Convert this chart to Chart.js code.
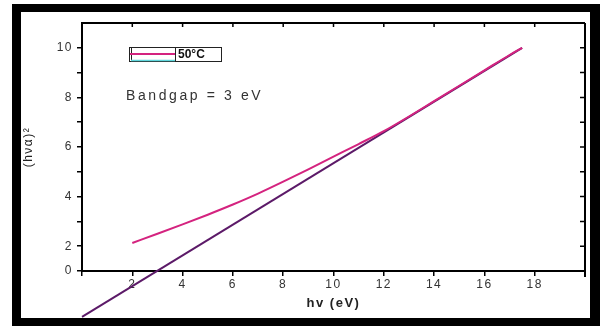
<!DOCTYPE html>
<html>
<head>
<meta charset="utf-8">
<script src="https://cdn.jsdelivr.net/npm/chart.js@4.4.1/dist/chart.umd.min.js"></script>
<style>
html,body{margin:0;padding:0;background:#fff;}
#wrap{width:600px;height:326px;}
</style>
</head>
<body>
<div id="wrap"><canvas id="c" width="600" height="326"></canvas></div>
<script>
// Data
const curveX = [2, 3, 4, 5, 6, 7, 8, 9, 10, 11, 12, 13, 14, 15, 16, 17, 17.5];
const curveY = [2.13, 2.5, 2.88, 3.27, 3.68, 4.12, 4.6, 5.1, 5.61, 6.12, 6.64, 7.23, 7.85, 8.47, 9.09, 9.71, 10.0];
const fitX = [0, 17.5];
const fitY = [-0.85, 10.0];
const xTickValues = [2, 4, 6, 8, 10, 12, 14, 16, 18];
const yTickLabels = {1: '0', 2: '2', 4: '4', 6: '6', 8: '8', 10: '10'};
const legendLabel = '50°C';
const noteText = 'Bandgap = 3 eV';
const xTitle = 'hv (eV)';
const yTitle = '(hνα)²';

const curvePts = curveX.map((x, i) => ({x: x, y: curveY[i]}));
const fitPts = fitX.map((x, i) => ({x: x, y: fitY[i]}));

const FONT = "'Liberation Sans', Arial, sans-serif";

const framePlugin = {
  id: 'frame',
  beforeDraw(chart) {
    const ctx = chart.ctx;
    ctx.save();
    ctx.fillStyle = '#fff';
    ctx.fillRect(0, 0, 600, 326);
    ctx.fillStyle = '#000';
    ctx.fillRect(12, 4, 588, 322);
    ctx.fillStyle = '#fff';
    ctx.fillRect(21, 12, 569, 306);
    ctx.restore();
    ctx.letterSpacing = '1.5px';
  },
  afterDraw(chart) {
    const ctx = chart.ctx;
    const a = chart.chartArea;
    const xs = chart.scales.x, ys = chart.scales.y;
    ctx.save();
    ctx.letterSpacing = '0px';
    ctx.strokeStyle = '#000';
    ctx.lineWidth = 2;
    ctx.beginPath();
    ctx.moveTo(a.left, a.top);
    ctx.lineTo(a.right, a.top);
    ctx.moveTo(a.right, a.top);
    ctx.lineTo(a.right, a.bottom + 6);
    ctx.stroke();
    ctx.lineWidth = 1.5;
    ctx.beginPath();
    xTickValues.forEach(v => {
      const px = xs.getPixelForValue(v);
      ctx.moveTo(px, a.top);
      ctx.lineTo(px, a.top + 4);
    });
    for (let v = 2; v <= 10; v++) {
      const py = ys.getPixelForValue(v);
      ctx.moveTo(a.right, py);
      ctx.lineTo(a.right - 5, py);
    }
    ctx.stroke();

    // legend box
    ctx.lineWidth = 1;
    ctx.strokeStyle = '#222';
    ctx.strokeRect(129.5, 47.5, 92, 14);
    ctx.beginPath();
    ctx.moveTo(175.5, 47.5); ctx.lineTo(175.5, 61.5);
    ctx.moveTo(131.5, 47.5); ctx.lineTo(131.5, 61.5);
    ctx.stroke();
    ctx.strokeStyle = '#d4237f';
    ctx.lineWidth = 2;
    ctx.beginPath();
    ctx.moveTo(130, 54); ctx.lineTo(175, 54);
    ctx.stroke();
    ctx.strokeStyle = '#5fd6dc';
    ctx.lineWidth = 1.5;
    ctx.beginPath();
    ctx.moveTo(131, 60.5); ctx.lineTo(175, 60.5);
    ctx.stroke();
    ctx.fillStyle = '#111';
    ctx.font = 'bold 12px ' + FONT;
    ctx.textBaseline = 'middle';
    ctx.textAlign = 'left';
    ctx.fillText(legendLabel, 178, 55);

    ctx.letterSpacing = '2.6px';
    ctx.font = '14px ' + FONT;
    ctx.fillStyle = '#333';
    ctx.fillText(noteText, 126, 96);
    ctx.restore();
  }
};

new Chart(document.getElementById('c'), {
  type: 'line',
  data: {
    datasets: [
      {
        label: 'fit',
        data: fitPts,
        borderColor: '#5c1a68',
        borderWidth: 2,
        pointRadius: 0,
        fill: false,
        clip: false,
        order: 2
      },
      {
        label: legendLabel,
        data: curvePts,
        borderColor: '#d4237f',
        borderWidth: 2,
        pointRadius: 0,
        tension: 0.4,
        cubicInterpolationMode: 'monotone',
        fill: false,
        order: 1
      }
    ]
  },
  options: {
    responsive: false,
    animation: false,
    devicePixelRatio: 1,
    layout: {padding: {left: 21, right: 15, top: 23, bottom: 8}},
    plugins: {legend: {display: false}, tooltip: {enabled: false}},
    scales: {
      x: {
        type: 'linear',
        min: 0, max: 20,
        afterFit(s) { s.height = 47; },
        ticks: {
          stepSize: 2,
          autoSkip: false,
          maxRotation: 0,
          padding: 1,
          color: '#333',
          font: {family: FONT, size: 12},
          callback: v => (xTickValues.includes(v) ? String(v) : '')
        },
        grid: {display: true, drawOnChartArea: false, drawTicks: true, tickLength: 5, color: '#000', lineWidth: 1.5},
        border: {display: true, color: '#000', width: 2},
        title: {display: true, text: xTitle, color: '#222', font: {family: FONT, size: 13, weight: 'bold'}, padding: {top: 0, bottom: 7}}
      },
      y: {
        type: 'linear',
        min: 1, max: 11,
        afterFit(s) { s.width = 61; },
        afterBuildTicks(s) { s.ticks = s.ticks.filter(t => t.value <= 10); },
        ticks: {
          stepSize: 1,
          autoSkip: false,
          padding: 4,
          color: '#333',
          font: {family: FONT, size: 12},
          callback: v => (yTickLabels[v] !== undefined ? yTickLabels[v] : '')
        },
        grid: {display: true, drawOnChartArea: false, drawTicks: true, tickLength: 5, color: '#000', lineWidth: 1.5},
        border: {display: true, color: '#000', width: 2},
        title: {display: true, text: yTitle, color: '#222', font: {family: FONT, size: 12}, padding: {top: 0, bottom: 0}}
      }
    }
  },
  plugins: [framePlugin]
});
</script>
</body>
</html>
